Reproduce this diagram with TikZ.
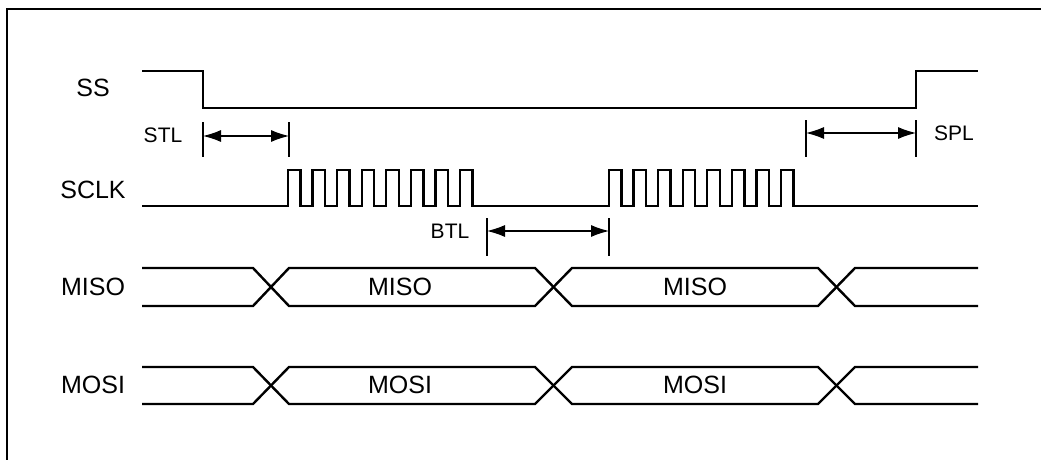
\documentclass[tikz,border=0pt]{standalone}
\usepackage{fontspec}
\setmainfont{Liberation Sans}
\usetikzlibrary{arrows.meta}
\begin{document}
\begin{tikzpicture}[x=1pt,y=-1pt,
  sig/.style={line width=2.4pt,line join=miter},
  tick/.style={line width=1.1pt},
  dim/.style={line width=1.1pt,{Latex[length=18pt,width=12pt]}-{Latex[length=18pt,width=12pt]}},
  biglbl/.style={font=\fontsize{25}{30}\selectfont,inner sep=0pt},
  smalllbl/.style={font=\fontsize{21}{25}\selectfont,inner sep=0pt}]
\useasboundingbox (0,0) rectangle (1041,460);
% frame
\draw[line width=2pt] (6.5,461) -- (6.5,9.5) -- (1042,9.5);
% left labels
\node[biglbl] (lss) at (93,88) {SS};
\node[biglbl] (lsclk) at (93,190) {SCLK};
\node[biglbl] (lmiso) at (93,287) {MISO};
\node[biglbl] (lmosi) at (93,385) {MOSI};
% SS
\draw[sig] (142,71) -- (203,71) -- (203,108) -- (916,108) -- (916,71) -- (978,71);
% SCLK
\def\p{24.57}\def\w{12.5}
\draw[sig] (142,206) -- (288,206)
  \foreach \i in {0,...,7} { -- ({288+\i*\p},206) -- ({288+\i*\p},170) -- ({288+\i*\p+\w},170) -- ({288+\i*\p+\w},206) }
  -- (609,206)
  \foreach \i in {0,...,7} { -- ({609+\i*\p},206) -- ({609+\i*\p},170) -- ({609+\i*\p+\w},170) -- ({609+\i*\p+\w},206) }
  -- (978,206);
% buses
\foreach \t/\b in {268/306, 367/404} {
  \draw[sig] (142,\t) -- (253,\t) -- (289,\b) -- (535,\b) -- (572,\t) -- (818,\t) -- (855,\b) -- (978,\b);
  \draw[sig] (142,\b) -- (253,\b) -- (289,\t) -- (535,\t) -- (572,\b) -- (818,\b) -- (855,\t) -- (978,\t);
}
\node[biglbl] (miso1) at (400,287) {MISO};
\node[biglbl] (miso2) at (695,287) {MISO};
\node[biglbl] (mosi1) at (400,385) {MOSI};
\node[biglbl] (mosi2) at (695,385) {MOSI};
% STL
\coordinate (stlAt) at (203,122); \coordinate (stlAb) at (203,157);
\coordinate (stlBt) at (289,122); \coordinate (stlBb) at (289,157);
\coordinate (stlA) at (203,136); \coordinate (stlB) at (289,136);
\draw[tick] (stlAt) -- (stlAb);
\draw[tick] (stlBt) -- (stlBb);
\draw[dim] (stlA) -- (stlB);
\node[smalllbl] (stl) at (163,135) {STL};
% BTL
\coordinate (btlAt) at (487,218); \coordinate (btlAb) at (487,256);
\coordinate (btlBt) at (609,218); \coordinate (btlBb) at (609,256);
\coordinate (btlA) at (487,231); \coordinate (btlB) at (609,231);
\draw[tick] (btlAt) -- (btlAb);
\draw[tick] (btlBt) -- (btlBb);
\draw[dim] (btlA) -- (btlB);
\node[smalllbl] (btl) at (450,231) {BTL};
% SPL
\coordinate (splAt) at (806,120); \coordinate (splAb) at (806,157);
\coordinate (splBt) at (916,120); \coordinate (splBb) at (916,157);
\coordinate (splA) at (806,133); \coordinate (splB) at (916,133);
\draw[tick] (splAt) -- (splAb);
\draw[tick] (splBt) -- (splBb);
\draw[dim] (splA) -- (splB);
\node[smalllbl] (spl) at (954,133) {SPL};
\end{tikzpicture}
\end{document}
